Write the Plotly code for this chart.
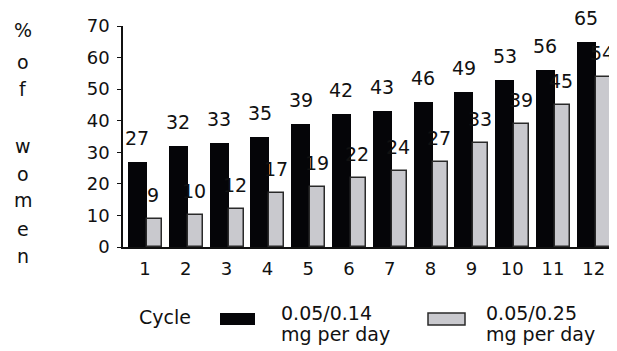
import plotly.graph_objects as go

cycles = [1, 2, 3, 4, 5, 6, 7, 8, 9, 10, 11, 12]
low_dose = [27, 32, 33, 35, 39, 42, 43, 46, 49, 53, 56, 65]     # 0.05/0.14 mg per day
high_dose = [9, 10, 12, 17, 19, 22, 24, 27, 33, 39, 45, 54]     # 0.05/0.25 mg per day
y_ticks = [0, 10, 20, 30, 40, 50, 60, 70]
y_letters = ["%", "o", "f", "w", "o", "m", "e", "n"]
legend_labels = ["0.05/0.14", "0.05/0.25"]
legend_sub = "mg per day"

FONT = "DejaVu Sans, Arial, sans-serif"
INK = "#111"
BLACK_FILL = "#050508"
GRAY_FILL = "#c9c9ce"
OUTLINE = "#2a2a2a"

# geometry (page has an 8px body margin)
PAGE_OFF = 8
FIG_W, FIG_H = 609, 343
ML, MR, MT, MB = 115, 0, 18, 104
PW, PH = FIG_W - ML - MR, FIG_H - MT - MB


def px(x):
    return (x - PAGE_OFF - ML) / PW


def py(y):
    return 1 - (y - PAGE_OFF - MT) / PH


BLACK_OFF, BLACK_W = -0.417, 0.466
GRAY_OFF, GRAY_W = 0.049, 0.368

fig = go.Figure()
fig.add_trace(go.Bar(
    x=cycles, y=low_dose, offset=BLACK_OFF, width=BLACK_W,
    marker=dict(color=BLACK_FILL, line=dict(width=0)), name="0.05/0.14 mg per day",
))
fig.add_trace(go.Bar(
    x=cycles, y=high_dose, offset=GRAY_OFF, width=GRAY_W,
    marker=dict(color=GRAY_FILL, line=dict(width=1.5, color=OUTLINE)), name="0.05/0.25 mg per day",
))

for c, v in zip(cycles, low_dose):
    fig.add_annotation(x=c + BLACK_OFF + BLACK_W / 2, y=v, text=str(v), showarrow=False,
                       yanchor="middle", yshift=24, font=dict(family=FONT, size=19, color=INK))
for c, v in zip(cycles, high_dose):
    fig.add_annotation(x=c + GRAY_OFF + GRAY_W / 2, y=v, text=str(v), showarrow=False,
                       yanchor="middle", yshift=24, xshift=-1, font=dict(family=FONT, size=19, color=INK))

# vertical y-axis title, letter by letter
letter_y = [30, 62, 89, 146, 174, 200, 229, 256]
for ch, yy in zip(y_letters, letter_y):
    fig.add_annotation(xref="paper", yref="paper", x=px(23), y=py(yy), text=ch, showarrow=False,
                       xanchor="center", yanchor="middle", font=dict(family=FONT, size=19, color=INK))

# manual legend
fig.add_annotation(xref="paper", yref="paper", x=px(137), y=py(317), text="Cycle", showarrow=False,
                   xanchor="left", yanchor="middle", font=dict(family=FONT, size=19, color=INK))
fig.add_shape(type="rect", xref="paper", yref="paper", x0=px(220), x1=px(255), y0=py(325), y1=py(313),
              fillcolor=BLACK_FILL, line=dict(width=0))
fig.add_shape(type="rect", xref="paper", yref="paper", x0=px(428), x1=px(465), y0=py(325), y1=py(313),
              fillcolor=GRAY_FILL, line=dict(width=1.5, color=OUTLINE))
for lx, lab in zip([279, 484], legend_labels):
    fig.add_annotation(xref="paper", yref="paper", x=px(lx), y=py(313), text=lab, showarrow=False,
                       xanchor="left", yanchor="middle", font=dict(family=FONT, size=19, color=INK))
    fig.add_annotation(xref="paper", yref="paper", x=px(lx), y=py(334), text=legend_sub, showarrow=False,
                       xanchor="left", yanchor="middle", font=dict(family=FONT, size=19, color=INK))

fig.update_layout(
    width=FIG_W, height=FIG_H,
    margin=dict(l=ML, r=MR, t=MT, b=MB, pad=0),
    paper_bgcolor="white", plot_bgcolor="white",
    barmode="overlay", showlegend=False, bargap=0,
    font=dict(family=FONT, color=INK),
)
fig.update_xaxes(
    range=[0.461, 12.57], tickmode="array", tickvals=cycles, ticktext=[str(c) for c in cycles],
    showline=True, linecolor=INK, linewidth=1.5, ticks="", showgrid=False, zeroline=False,
    tickfont=dict(family=FONT, size=18, color=INK), ticklabelstandoff=5,
)
fig.update_yaxes(
    range=[0, 70], tickmode="array", tickvals=y_ticks, showline=True, linecolor=INK, linewidth=1.5,
    ticks="outside", ticklen=4, tickcolor=INK, showgrid=False, zeroline=False,
    tickfont=dict(family=FONT, size=18, color=INK), ticklabelstandoff=4,
)

fig.write_html("out.html")
